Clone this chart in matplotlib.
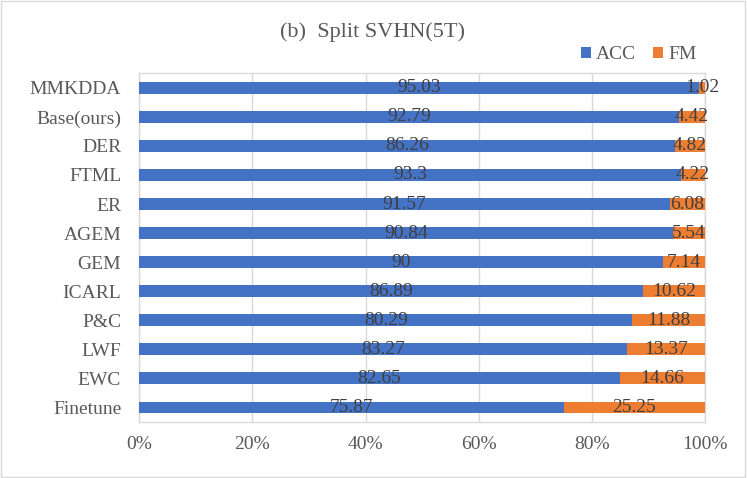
import matplotlib
matplotlib.use("Agg")
import matplotlib.pyplot as plt
import numpy as np
from matplotlib.patches import Rectangle

categories = ["MMKDDA", "Base(ours)", "DER", "FTML", "ER", "AGEM", "GEM",
              "ICARL", "P&C", "LWF", "EWC", "Finetune"]
acc = [95.03, 92.79, 86.26, 93.3, 91.57, 90.84, 90, 86.89, 80.29, 83.27, 82.65, 75.87]
fm = [1.02, 4.42, 4.82, 4.22, 6.08, 5.54, 7.14, 10.62, 11.88, 13.37, 14.66, 25.25]
acc_labels = ["95.03", "92.79", "86.26", "93.3", "91.57", "90.84", "90", "86.89",
              "80.29", "83.27", "82.65", "75.87"]
fm_labels = ["1.02", "4.42", "4.82", "4.22", "6.08", "5.54", "7.14", "10.62",
             "11.88", "13.37", "14.66", "25.25"]
xticks = [0, 0.2, 0.4, 0.6, 0.8, 1.0]
xtick_labels = ["0%", "20%", "40%", "60%", "80%", "100%"]

plt.rcParams['font.family'] = ['Liberation Serif', 'DejaVu Serif']

fig = plt.figure(figsize=(7.47, 4.78), dpi=100)
ax = fig.add_axes([0.1865, 0.1175, 0.7573, 0.7291])

acc_a = np.array(acc)
fm_a = np.array(fm)
tot = acc_a + fm_a
acc_p = acc_a / tot
fm_p = fm_a / tot
y = np.arange(len(categories))

blue = "#4472C4"
orange = "#ED7D31"
ax.barh(y, acc_p, height=0.4, color=blue, label="ACC", zorder=3)
ax.barh(y, fm_p, left=acc_p, height=0.4, color=orange, label="FM", zorder=3)

for i in range(len(categories)):
    ax.text(acc_p[i] / 2, y[i], acc_labels[i], ha="center", va="center",
            fontsize=14, color="#404040", zorder=4)
    ax.text(acc_p[i] + fm_p[i] / 2, y[i], fm_labels[i], ha="center", va="center",
            fontsize=14, color="#404040", zorder=4)

ax.set_ylim(len(categories) - 0.5, -0.5)
ax.set_xlim(0, 1)
ax.set_yticks(y)
ax.set_yticklabels(categories, fontsize=14, color="#595959")
ax.set_xticks(xticks)
ax.set_xticklabels(xtick_labels, fontsize=14, color="#595959")
ax.tick_params(axis="both", length=0)
ax.tick_params(axis="y", pad=13)
ax.tick_params(axis="x", pad=10)
ax.grid(axis="x", color="#D9D9D9", linewidth=1, zorder=0)
for s in ax.spines.values():
    s.set_color("#D9D9D9")
    s.set_linewidth(1)

fig.text(0.499, 0.933, "(b)  Split SVHN(5T)", ha="center", va="center",
         fontsize=16, color="#595959")

leg = fig.legend(loc="center", bbox_to_anchor=(0.855, 0.886), ncol=2, frameon=False,
                 fontsize=14, handlelength=0.5, handleheight=0.5,
                 handletextpad=0.25, columnspacing=0.9, labelcolor="#595959")

fig.patches.append(Rectangle((0.002, 0.003), 0.995, 0.994, transform=fig.transFigure,
                             fill=False, edgecolor="#D9D9D9", linewidth=1))

fig.savefig("out.png", dpi=100)
